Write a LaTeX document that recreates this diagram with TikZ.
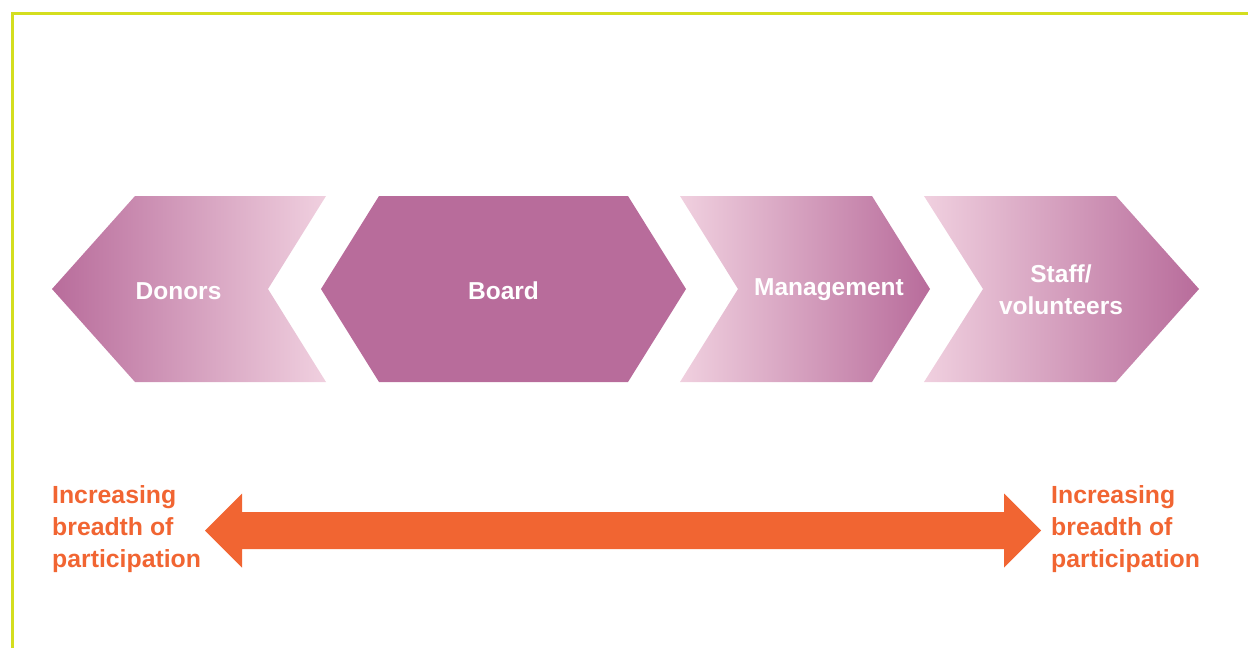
\documentclass[tikz,border=0pt]{standalone}
\usepackage{fontspec}
\setmainfont{Liberation Sans}
\definecolor{plum}{HTML}{B86C9B}
\definecolor{blush}{HTML}{F0D0DF}
\definecolor{flame}{HTML}{F16532}
\definecolor{lime}{HTML}{D4DE1F}
\tikzset{
  lbl/.style={text=white, font=\bfseries\fontsize{24.5}{32}\selectfont, inner sep=0pt, align=center, anchor=base},
  side/.style={text=flame, font=\bfseries\fontsize{24.8}{32}\selectfont, inner sep=0pt, align=left, anchor=base west},
}
\begin{document}
\begin{tikzpicture}[x=1pt, y=-1pt]
\useasboundingbox (0,0) rectangle (1248,648);
% frame
\draw[lime, line width=2.5pt] (12.5,648) -- (12.5,13.5) -- (1248,13.5);
% shapes
\shade[left color=plum, right color=blush] (52,289) -- (135,196) -- (326,196) -- (268,289) -- (326,382) -- (135,382) -- cycle;
\fill[plum] (321,289) -- (379,196) -- (628,196) -- (686,289) -- (628,382) -- (379,382) -- cycle;
\shade[left color=blush, right color=plum] (680,196) -- (872,196) -- (930,289) -- (872,382) -- (680,382) -- (738,289) -- cycle;
\shade[left color=blush, right color=plum] (924,196) -- (1116,196) -- (1199,289) -- (1116,382) -- (924,382) -- (983,289) -- cycle;
% labels
\node[lbl] (donors) at (178.5,299) {Donors};
\node[lbl] (board) at (503.5,299) {Board};
\node[lbl] (mgmt) at (829,295) {Management};
\node[lbl] (staff) at (1061,314) {Staff/\\volunteers};
% double arrow
\coordinate (ltip) at (205,530.5);
\coordinate (rtip) at (1041,530.5);
\fill[flame] (ltip) -- (242,493.5) -- (242,512) -- (1004,512) -- (1004,493.5) -- (rtip) -- (1004,567.5) -- (1004,549) -- (242,549) -- (242,567.5) -- cycle;
% side texts
\node[side] (lefttext) at (52,567) {Increasing\\breadth of\\participation};
\node[side] (righttext) at (1051,567) {Increasing\\breadth of\\participation};
\end{tikzpicture}
\end{document}
